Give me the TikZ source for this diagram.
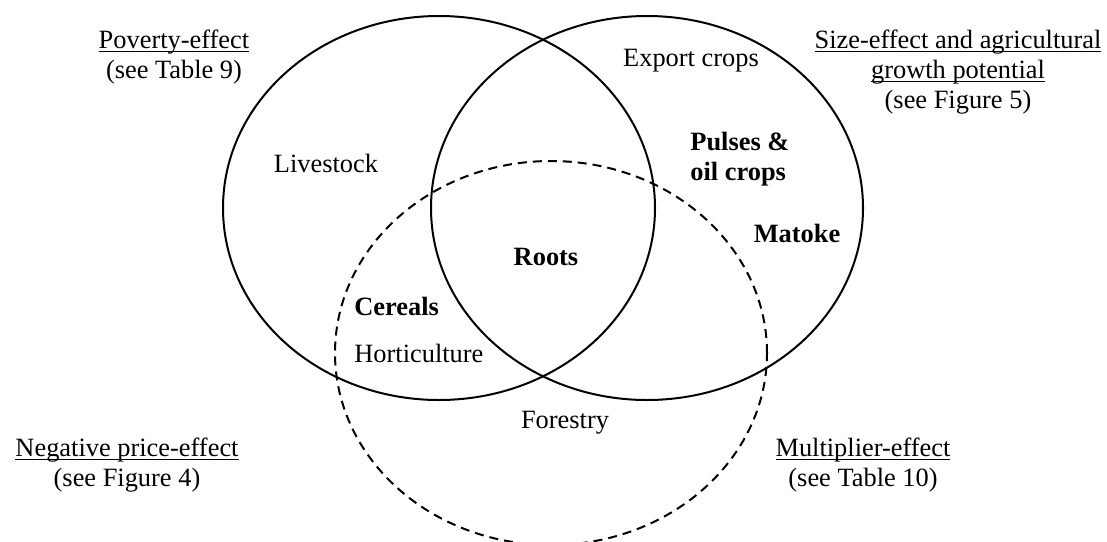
\documentclass[tikz,border=0pt]{standalone}
\usepackage{fontspec}
\setmainfont{Liberation Serif}
\usetikzlibrary{shapes.geometric}

\newcommand{\lblfont}{\fontsize{13.2}{15}\selectfont}
\newcommand{\ulined}[1]{\underline{\raisebox{0pt}[\height][0pt]{#1}}}
\tikzstyle{effect} = [ellipse, draw, line width=1pt, minimum width=216pt, minimum height=192pt, inner sep=0pt]
\tikzstyle{title} = [align=center, inner sep=0pt, font=\lblfont]
\tikzstyle{sector} = [inner sep=0pt, font=\lblfont]
\tikzstyle{keysector} = [inner sep=0pt, font=\lblfont\bfseries]

\begin{document}
\begin{tikzpicture}[x=0.5pt,y=-0.5pt]
\useasboundingbox (0,0) rectangle (1107,541);
% the three effects
\node [effect] (pov) at (439,208) {};
\node [effect] (size) at (647,208) {};
\node [effect,dash pattern=on 4.5pt off 3pt] (mult) at (551,353) {};
% titles
\node [title] (povtitle) at (174,57) {\ulined{Poverty-effect}\\(see Table 9)};
\node [title] (sizetitle) at (958,72) {\ulined{Size-effect and agricultural}\\\ulined{growth potential}\\(see Figure 5)};
\node [title] (negtitle) at (127,465) {\ulined{Negative price-effect}\\(see Figure 4)};
\node [title] (multtitle) at (863,465) {\ulined{Multiplier-effect}\\(see Table 10)};
% sectors
\node [sector] (livestock) at (326,163) {Livestock};
\node [sector] (export) at (691,61) {Export crops};
\node [keysector,align=left,anchor=west] (pulses) at (690,159) {Pulses \&\\oil crops};
\node [keysector] (matoke) at (797,233) {Matoke};
\node [keysector] (roots) at (546,257) {Roots};
\node [keysector,anchor=west] (cereals) at (354,306) {Cereals};
\node [sector,anchor=west] (horti) at (354,353) {Horticulture};
\node [sector] (forestry) at (565,423) {Forestry};
\end{tikzpicture}
\end{document}
